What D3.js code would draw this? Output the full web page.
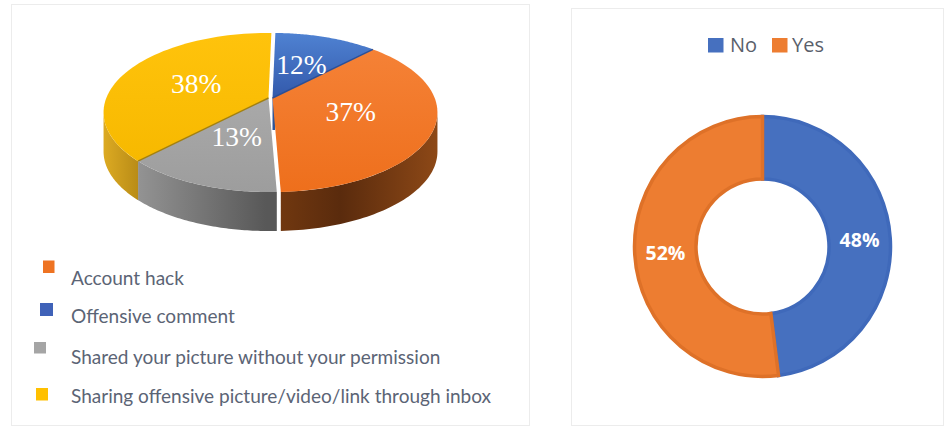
<!DOCTYPE html>
<html>
<head>
<meta charset="utf-8">
<script src="https://cdn.jsdelivr.net/npm/d3@7"></script>
<style>
  html, body { margin: 0; padding: 0; background: #fff; }
  svg { display: block; }
</style>
</head>
<body>
<svg id="chart" width="946" height="428"></svg>
<script>
// Incident types, clockwise from twelve o'clock
const incidentDrawOrder = ["Offensive comment", "Account hack", "Shared your picture without your permission", "Sharing offensive picture/video/link through inbox"];
const incidentValues = [12, 37, 13, 38];
const incidentLegendOrder = ["Account hack", "Offensive comment", "Shared your picture without your permission", "Sharing offensive picture/video/link through inbox"];

// Yes/no question, clockwise from twelve o'clock
const answerCategories = ["No", "Yes"];
const answerValues = [48, 52];

const svg = d3.select("#chart");
const defs = svg.append("defs");

function hGradient(id, x0, x1, stops) {
  const g = defs.append("linearGradient").attr("id", id)
    .attr("gradientUnits", "userSpaceOnUse")
    .attr("x1", x0).attr("x2", x1).attr("y1", 0).attr("y2", 0);
  stops.forEach(([o, c]) => g.append("stop").attr("offset", o).attr("stop-color", c));
}
function vGradient(id, y0, y1, stops) {
  const g = defs.append("linearGradient").attr("id", id)
    .attr("gradientUnits", "userSpaceOnUse")
    .attr("x1", 0).attr("x2", 0).attr("y1", y0).attr("y2", y1);
  stops.forEach(([o, c]) => g.append("stop").attr("offset", o).attr("stop-color", c));
}

// Panels behind each chart
const panels = svg.append("g").attr("fill", "#fff").attr("stroke", "#ececec").attr("stroke-width", 1);
panels.append("rect").attr("x", 11.5).attr("y", 4.5).attr("width", 518).attr("height", 421);
panels.append("rect").attr("x", 571.5).attr("y", 8.5).attr("width", 372).attr("height", 417);

/* ---------- Tilted pie ---------- */
const tilt = { cx: 270.5, cy: 98, rx: 162.2, ry: 76.9, k: 0.182, depth: 39 };
const TAU = 2 * Math.PI;
const rotation = 1.2 * Math.PI / 180;

// Perspective projection of a point on the pie's disc; angle runs clockwise from the top
function project(angle, r) {
  const X = r * Math.sin(angle), Y = -r * Math.cos(angle);
  const w = 1 - tilt.k * Y;
  return [tilt.cx + tilt.rx * X / w, tilt.cy + tilt.ry * Y / w];
}

const pieAngles = d3.pie().sort(null).startAngle(rotation).endAngle(TAU + rotation)(incidentValues);

const incidentStyle = {
  "Offensive comment": { top: "url(#blueTop)", wall: "#2f5597", swatch: "#3f62b8", shift: 2 },
  "Account hack": { top: "url(#orangeTop)", wall: "url(#orangeWall)", swatch: "#ee7322", shift: 2 },
  "Shared your picture without your permission": { top: "url(#greyTop)", wall: "url(#greyWall)", swatch: "#a5a5a5", shift: -2 },
  "Sharing offensive picture/video/link through inbox": { top: "url(#yellowTop)", wall: "url(#yellowWall)", swatch: "#ffc000", shift: -2 }
};

vGradient("blueTop", 33, 98, [[0, "#4f82d2"], [1, "#3359ab"]]);
vGradient("orangeTop", 45, 192, [[0, "#f58237"], [1, "#ee6f1c"]]);
vGradient("yellowTop", 33, 160, [[0, "#ffc30c"], [1, "#f7b900"]]);
vGradient("greyTop", 98, 192, [[0, "#a9a9a9"], [1, "#9d9d9d"]]);
hGradient("orangeWall", 272, 438, [[0, "#733910"], [0.4, "#5a2b0d"], [1, "#8e4917"]]);
hGradient("greyWall", 140, 268, [[0, "#939393"], [1, "#585858"]]);
hGradient("yellowWall", 106, 140, [[0, "#dcaa22"], [1, "#b98c17"]]);

const line = d3.line();
const arcSteps = a => d3.range(0, 61).map(i => a[0] + (a[1] - a[0]) * i / 60);
const pieLayer = svg.append("g");

// The rim is visible only between the two tangent angles of the projected ellipse
const wallFrom = Math.acos(-tilt.k), wallTo = TAU - wallFrom;

// Side walls first, so the top faces sit over them
pieAngles.forEach((s, i) => {
  const st = incidentStyle[incidentDrawOrder[i]];
  const a0 = Math.max(s.startAngle, wallFrom), a1 = Math.min(s.endAngle, wallTo);
  if (a1 <= a0) return;
  const rim = arcSteps([a0, a1]).map(a => project(a, 1));
  const lower = rim.map(p => [p[0], p[1] + tilt.depth]).reverse();
  pieLayer.append("path")
    .attr("transform", `translate(${st.shift},0)`)
    .attr("d", line(rim.concat(lower)) + "Z")
    .attr("fill", st.wall);
});

// Narrow inner face under the tip of the blue wedge
const tip = project(0, 0);
pieLayer.append("path")
  .attr("transform", `translate(${incidentStyle["Offensive comment"].shift},0)`)
  .attr("d", line([tip, [tip[0] + 2.5, tip[1]], [tip[0] + 2.5, tip[1] + 32], [tip[0], tip[1] + 32]]) + "Z")
  .attr("fill", "#2f5597");

// Top faces
pieAngles.forEach((s, i) => {
  const st = incidentStyle[incidentDrawOrder[i]];
  const pts = [project(0, 0)].concat(arcSteps([s.startAngle, s.endAngle]).map(a => project(a, 1)));
  pieLayer.append("path")
    .attr("transform", `translate(${st.shift},0)`)
    .attr("d", line(pts) + "Z")
    .attr("fill", st.top);
});

// Darker creases along the blue/orange and grey/yellow joins
[[0, "endAngle", "#2c4f96"], [3, "startAngle", "#a07f12"]].forEach(([i, key, col]) => {
  const st = incidentStyle[incidentDrawOrder[i]];
  pieLayer.append("path")
    .attr("transform", `translate(${st.shift},0)`)
    .attr("d", line([project(0, 0), project(pieAngles[i][key], 1)]))
    .attr("stroke", col).attr("stroke-width", 1.4).attr("fill", "none");
});

// Percentages on the top faces
pieAngles.forEach((s, i) => {
  const st = incidentStyle[incidentDrawOrder[i]];
  const [x, y] = project((s.startAngle + s.endAngle) / 2, 0.5);
  pieLayer.append("text")
    .attr("x", x + st.shift).attr("y", y + 9)
    .attr("text-anchor", "middle")
    .attr("font-family", "'Liberation Serif', serif")
    .attr("font-size", 27.5)
    .attr("fill", "#fff")
    .text(s.value + "%");
});

// Legend, each row with its own slightly offset swatch
const legendRows = [
  { sx: 43, sy: 260.5, sw: 11.5, sh: 12.5, base: 285 },
  { sx: 40, sy: 303, sw: 13, sh: 13, base: 323 },
  { sx: 34, sy: 342, sw: 12, sh: 11.5, base: 364 },
  { sx: 36, sy: 388, sw: 12, sh: 12.5, base: 403 }
];
const legend = svg.append("g");
incidentLegendOrder.forEach((name, i) => {
  const row = legendRows[i];
  legend.append("rect")
    .attr("x", row.sx).attr("y", row.sy).attr("width", row.sw).attr("height", row.sh)
    .attr("fill", incidentStyle[name].swatch);
  legend.append("text")
    .attr("x", 71).attr("y", row.base)
    .attr("font-family", "Lato, sans-serif")
    .attr("font-size", 19.05)
    .attr("fill", "#5b6475")
    .text(name);
});

/* ---------- Donut ---------- */
const donutColors = d3.scaleOrdinal().domain(answerCategories).range(["#4670bf", "#ed7d31"]);
const donutEdges = d3.scaleOrdinal().domain(answerCategories).range(["#3f69ba", "#de7128"]);
const donutArc = d3.arc().innerRadius(66.5).outerRadius(128);
const donutPie = d3.pie().sort(null)(answerValues);
const donut = svg.append("g").attr("transform", "translate(762.5,246.5) scale(1,1.015)");

donut.selectAll("path").data(donutPie).join("path")
  .attr("d", donutArc)
  .attr("fill", (d, i) => donutColors(answerCategories[i]))
  .attr("stroke", (d, i) => donutEdges(answerCategories[i]))
  .attr("stroke-width", 3.5)
  .attr("stroke-linejoin", "miter");

const donutLabels = svg.append("g").attr("transform", "translate(762.5,246.5)");
donutLabels.selectAll("text").data(donutPie).join("text")
  .attr("x", d => donutArc.centroid(d)[0])
  .attr("y", d => donutArc.centroid(d)[1] + 7)
  .attr("text-anchor", "middle")
  .attr("font-family", "'Open Sans', sans-serif")
  .attr("font-weight", 700)
  .attr("font-size", 19.5)
  .attr("fill", "#fff")
  .text(d => d.value + "%");

// Donut legend across the top of the panel
const answerLegend = svg.append("g");
[[708, 730], [772, 792]].forEach(([sx, tx], i) => {
  answerLegend.append("rect")
    .attr("x", sx).attr("y", 38).attr("width", 15.5).attr("height", 14.5)
    .attr("fill", donutColors(answerCategories[i]));
  answerLegend.append("text")
    .attr("x", tx).attr("y", 52)
    .attr("font-family", "'Open Sans', sans-serif")
    .attr("font-size", 20)
    .attr("fill", "#5a5f6b")
    .text(answerCategories[i]);
});
</script>
</body>
</html>
